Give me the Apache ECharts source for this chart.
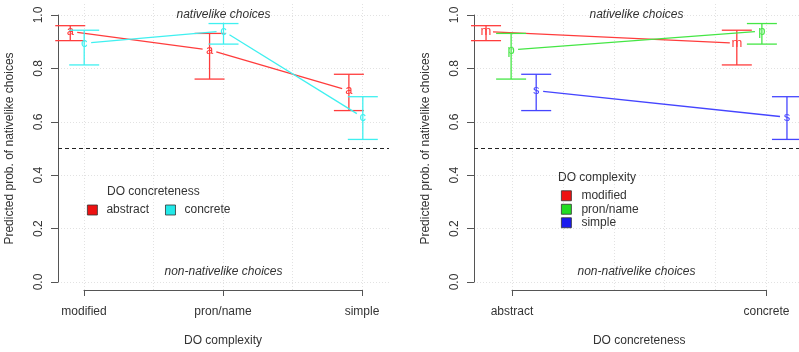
<!DOCTYPE html>
<html><head><meta charset="utf-8">
<script src="https://cdn.jsdelivr.net/npm/echarts@6/dist/echarts.min.js"></script>
<style>html,body{margin:0;padding:0;background:#fff}#c{width:799px;height:352px}</style>
</head><body><div id="c"></div>
<script>
// ---- data ----
const complexity = ['modified', 'pron/name', 'simple'];
const concreteness = ['abstract', 'concrete'];
const complexityLetters = ['m', 'p', 's'];
const concretenessLetters = ['a', 'c'];
// predicted probability of nativelike choices, indexed [complexity]
const fitAbstract = [0.938, 0.869, 0.717];
const loAbstract  = [0.904, 0.760, 0.642];
const hiAbstract  = [0.960, 0.931, 0.778];
const fitConcrete = [0.894, 0.940, 0.617];
const loConcrete  = [0.813, 0.891, 0.534];
const hiConcrete  = [0.943, 0.968, 0.694];
const yTicks = ['0.0', '0.2', '0.4', '0.6', '0.8', '1.0'];
const yTitle = 'Predicted prob. of nativelike choices';
const xTitles = ['DO complexity', 'DO concreteness'];
const legendTitles = ['DO concreteness', 'DO complexity'];
const annotations = ['nativelike choices', 'non-nativelike choices'];
const chanceLevel = 0.5;

// ---- styling ----
const FONT = "'Liberation Sans', Arial, sans-serif";
const TXT = '#333';
const AX = '#555';
const concColors = ['#ff3c3c', '#3ff0f0'];
const compColors = ['#ff3c3c', '#45e645', '#4545ff'];
const concKey = ['#ee1111', '#22e8e8'];
const compKey = ['#ee1111', '#22dd22', '#1a1aee'];

const fits = [fitAbstract, fitConcrete], los = [loAbstract, loConcrete], his = [hiAbstract, hiConcrete];

function makeRender(letter) {
  return function (params, api) {
    const x = api.value(0), y = api.value(1), lo = api.value(2), hi = api.value(3), px = api.value(4), py = api.value(5);
    const color = api.visual('color');
    const p = api.coord([x, y]), pl = api.coord([x, lo]), ph = api.coord([x, hi]);
    const cap = 15, lw = 1.3;
    const ch = [
      {type: 'line', shape: {x1: p[0], y1: pl[1], x2: p[0], y2: ph[1]}, style: {stroke: color, lineWidth: lw}},
      {type: 'line', shape: {x1: p[0] - cap, y1: pl[1], x2: p[0] + cap, y2: pl[1]}, style: {stroke: color, lineWidth: lw}},
      {type: 'line', shape: {x1: p[0] - cap, y1: ph[1], x2: p[0] + cap, y2: ph[1]}, style: {stroke: color, lineWidth: lw}},
      {type: 'text', style: {text: letter, x: p[0], y: p[1], align: 'center', verticalAlign: 'middle', fill: color, font: '13px ' + FONT}}
    ];
    if (!(px === x && py === y)) {
      const q = api.coord([px, py]);
      const dx = p[0] - q[0], dy = p[1] - q[1], L = Math.sqrt(dx * dx + dy * dy), g = 7;
      ch.push({type: 'line', shape: {x1: q[0] + dx * g / L, y1: q[1] + dy * g / L, x2: p[0] - dx * g / L, y2: p[1] - dy * g / L}, style: {stroke: color, lineWidth: lw}});
    }
    return {type: 'group', children: ch};
  };
}

const series = [];
// left panel: x = complexity, groups = concreteness
const leftOffsets = [-0.1, 0];
concreteness.forEach((name, g) => {
  const data = complexity.map((c, i) => {
    const x = i + 1 + leftOffsets[g];
    const px = i === 0 ? x : i + leftOffsets[g];
    const py = i === 0 ? fits[g][i] : fits[g][i - 1];
    return [x, fits[g][i], los[g][i], his[g][i], px, py];
  });
  series.push({type: 'custom', name: name, xAxisIndex: 0, yAxisIndex: 0, itemStyle: {color: concColors[g]},
    renderItem: makeRender(concretenessLetters[g]), data: data, z: 5});
});
// right panel: x = concreteness, groups = complexity
const rightOffsets = [-0.1, 0, 0.1];
complexity.forEach((name, c) => {
  const data = concreteness.map((cn, j) => {
    const x = j + 1 + rightOffsets[c];
    const px = j === 0 ? x : j + rightOffsets[c];
    const py = j === 0 ? fits[j][c] : fits[j - 1][c];
    return [x, fits[j][c], los[j][c], his[j][c], px, py];
  });
  series.push({type: 'custom', name: name, xAxisIndex: 3, yAxisIndex: 2, itemStyle: {color: compColors[c]},
    renderItem: makeRender(complexityLetters[c]), data: data, z: 5});
});

// annotations + chance line
function annotRender(params, api) {
  const cx = api.value(0);
  const top = api.coord([cx, 1.0]), bot = api.coord([cx, 0.04]);
  return {type: 'group', children: [
    {type: 'text', style: {text: annotations[0], x: top[0], y: top[1], align: 'center', verticalAlign: 'middle', fill: TXT, font: 'italic 12px ' + FONT}},
    {type: 'text', style: {text: annotations[1], x: bot[0], y: bot[1], align: 'center', verticalAlign: 'middle', fill: TXT, font: 'italic 12px ' + FONT}}
  ]};
}
const dashStyle = {color: '#222', type: [4, 3], width: 1};
series.push({type: 'custom', xAxisIndex: 0, yAxisIndex: 0, renderItem: annotRender, data: [[2]], silent: true,
  markLine: {silent: true, symbol: 'none', label: {show: false}, lineStyle: dashStyle,
    data: [[{coord: [0.812, chanceLevel]}, {coord: [3.188, chanceLevel]}]]}});
series.push({type: 'custom', xAxisIndex: 3, yAxisIndex: 2, renderItem: annotRender, data: [[1.5]], silent: true,
  markLine: {silent: true, symbol: 'none', label: {show: false}, lineStyle: dashStyle,
    data: [[{coord: [0.852, chanceLevel]}, {coord: [2.148, chanceLevel]}]]}});

const gridLine = {show: true, lineStyle: {color: '#e2e2e2', type: [1, 2], width: 1}};

function yAxisMain(gi) {
  return {type: 'value', gridIndex: gi, min: 0, max: 1, interval: 0.2,
    name: yTitle, nameLocation: 'middle', nameGap: 42, nameTextStyle: {color: TXT, fontSize: 12, fontFamily: FONT},
    axisLine: {show: true, lineStyle: {color: AX}}, axisTick: {show: true, length: 7, lineStyle: {color: AX}},
    axisLabel: {rotate: 90, margin: 13, color: TXT, fontSize: 12, fontFamily: FONT, formatter: v => yTicks[Math.round(v * 5)]},
    splitLine: gridLine};
}
function hiddenY(gi) { return {type: 'value', gridIndex: gi, min: 0, max: 1, show: false}; }

const option = {
  animation: false,
  backgroundColor: '#fff',
  textStyle: {fontFamily: FONT},
  title: [
    {text: legendTitles[0], left: 107, top: 186, textStyle: {color: TXT, fontSize: 12, fontWeight: 'normal', fontFamily: FONT}, padding: 0},
    {text: legendTitles[1], left: 558, top: 172, textStyle: {color: TXT, fontSize: 12, fontWeight: 'normal', fontFamily: FONT}, padding: 0}
  ],
  legend: [
    {data: concreteness.map((n, i) => ({name: n, itemStyle: {color: concKey[i]}})), orient: 'horizontal', left: 87, top: 204, padding: 0, itemWidth: 10, itemHeight: 10, itemGap: 16,
      icon: 'rect', itemStyle: {borderColor: '#333', borderWidth: 0.8},
      textStyle: {color: TXT, fontSize: 12, fontFamily: FONT, padding: [0, 0, 0, 4]}},
    {data: complexity.map((n, i) => ({name: n, itemStyle: {color: compKey[i]}})), orient: 'vertical', left: 561, top: 189, padding: 0, itemWidth: 10, itemHeight: 10, itemGap: 0,
      icon: 'rect', itemStyle: {borderColor: '#333', borderWidth: 0.8},
      textStyle: {color: TXT, fontSize: 12, fontFamily: FONT, padding: [0, 0, 0, 5], lineHeight: 13.5}}
  ],
  grid: [
    {left: 58, top: 15, width: 331, height: 267},
    {left: 84, top: 4, width: 278, height: 289},
    {left: 474, top: 15, width: 331, height: 267},
    {left: 512, top: 4, width: 254.5, height: 289}
  ],
  xAxis: [
    {type: 'value', gridIndex: 0, min: 0.812, max: 3.188, show: false},
    {type: 'value', gridIndex: 1, min: 1, max: 3, interval: 1, position: 'bottom',
      axisLine: {show: true, lineStyle: {color: AX}}, axisTick: {show: true, length: 6, lineStyle: {color: AX}},
      axisLabel: {margin: 16, color: TXT, fontSize: 12, fontFamily: FONT, formatter: v => complexity[Math.round(v) - 1]},
      splitLine: {show: false},
      name: xTitles[0], nameLocation: 'middle', nameGap: 45, nameTextStyle: {color: TXT, fontSize: 12, fontFamily: FONT}},
    {type: 'value', gridIndex: 1, min: 1, max: 3, interval: 0.5, axisLine: {show: false}, axisTick: {show: false}, axisLabel: {show: false}, splitLine: gridLine},
    {type: 'value', gridIndex: 2, min: 0.852, max: 2.148, show: false},
    {type: 'value', gridIndex: 3, min: 1, max: 2, interval: 1, position: 'bottom',
      axisLine: {show: true, lineStyle: {color: AX}}, axisTick: {show: true, length: 6, lineStyle: {color: AX}},
      axisLabel: {margin: 16, color: TXT, fontSize: 12, fontFamily: FONT, formatter: v => concreteness[Math.round(v) - 1]},
      splitLine: {show: false},
      name: xTitles[1], nameLocation: 'middle', nameGap: 45, nameTextStyle: {color: TXT, fontSize: 12, fontFamily: FONT}},
    {type: 'value', gridIndex: 3, min: 1, max: 2, interval: 0.2, axisLine: {show: false}, axisTick: {show: false}, axisLabel: {show: false}, splitLine: gridLine}
  ],
  yAxis: [yAxisMain(0), hiddenY(1), yAxisMain(2), hiddenY(3)],
  series: series
};
const chart = echarts.init(document.getElementById('c'), null, {renderer: 'canvas'});
chart.setOption(option);
</script></body></html>
